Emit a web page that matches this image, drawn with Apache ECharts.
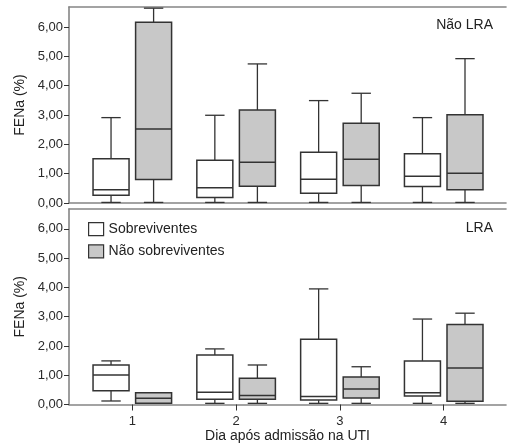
<!DOCTYPE html>
<html>
<head>
<meta charset="utf-8">
<script src="https://cdn.jsdelivr.net/npm/echarts@6/dist/echarts.min.js"></script>
<style>html,body{margin:0;padding:0;background:#fff;}#c{width:507px;height:447px;}</style>
</head>
<body>
<div id="c"></div>
<script>
// Days after ICU admission
const days = [1, 2, 3, 4];
const yTicks = [0, 1, 2, 3, 4, 5, 6];
// Each entry: [min, Q1, median, Q3, max] for day 1..4
const naoLraSobreviventes = [[0.02, 0.26, 0.45, 1.51, 2.91], [0.02, 0.19, 0.52, 1.46, 2.99], [0.02, 0.33, 0.81, 1.73, 3.49], [0.02, 0.56, 0.91, 1.68, 2.91]];
const naoLraNaoSobreviventes = [[0.02, 0.80, 2.52, 6.16, 6.64], [0.02, 0.57, 1.39, 3.17, 4.74], [0.02, 0.60, 1.49, 2.72, 3.74], [0.02, 0.45, 1.01, 3.01, 4.92]];
const lraSobreviventes = [[0.12, 0.47, 1.01, 1.35, 1.49], [0.04, 0.18, 0.42, 1.69, 1.90], [0.04, 0.15, 0.27, 2.23, 3.95], [0.04, 0.29, 0.40, 1.49, 2.92]];
const lraNaoSobreviventes = [[0.04, 0.04, 0.21, 0.40, 0.40], [0.04, 0.18, 0.31, 0.90, 1.35], [0.04, 0.22, 0.53, 0.94, 1.29], [0.04, 0.11, 1.25, 2.73, 3.12]];

const FONT = '"Liberation Sans", Arial, sans-serif';
const AXIS_GRAY = '#858585';
const INK = '#333';

function toData(stats) { return days.map((d, i) => [d].concat(stats[i])); }

function makeRender(sign) {
  return function (params, api) {
    const x = api.value(0);
    const unit = api.size([1, 0])[0];
    const cx = api.coord([x, 0])[0] + sign * unit * 0.205;
    const yMin = api.coord([x, api.value(1)])[1];
    const yQ1 = api.coord([x, api.value(2)])[1];
    const yMed = api.coord([x, api.value(3)])[1];
    const yQ3 = api.coord([x, api.value(4)])[1];
    const yMax = api.coord([x, api.value(5)])[1];
    const hw = 18, cw = 9.7;
    const fill = api.visual('color');
    const ls = { stroke: INK, lineWidth: 1.3 };
    return {
      type: 'group',
      children: [
        { type: 'line', shape: { x1: cx, y1: yQ3, x2: cx, y2: yMax }, style: ls },
        { type: 'line', shape: { x1: cx, y1: yQ1, x2: cx, y2: yMin }, style: ls },
        { type: 'line', shape: { x1: cx - cw, y1: yMax, x2: cx + cw, y2: yMax }, style: ls },
        { type: 'line', shape: { x1: cx - cw, y1: yMin, x2: cx + cw, y2: yMin }, style: ls },
        { type: 'rect', shape: { x: cx - hw, y: yQ3, width: 2 * hw, height: yQ1 - yQ3 }, style: { fill: fill, stroke: INK, lineWidth: 1.5 } },
        { type: 'line', shape: { x1: cx - hw, y1: yMed, x2: cx + hw, y2: yMed }, style: { stroke: INK, lineWidth: 1.5 } }
      ]
    };
  };
}

const fmt = v => v.toFixed(2).replace('.', ',');

function yAxis(gridIndex) {
  return {
    type: 'value', gridIndex, min: 0, max: 6.68, interval: 1,
    name: 'FENa (%)', nameLocation: 'middle', nameGap: 41,
    nameTextStyle: { fontFamily: FONT, fontSize: 14, color: '#222' },
    axisLine: { show: true, onZero: false, lineStyle: { color: AXIS_GRAY, width: 1.6 } },
    axisTick: { show: true, length: 5, customValues: yTicks, lineStyle: { color: INK } },
    axisLabel: { customValues: yTicks, formatter: fmt, fontFamily: FONT, fontSize: 13, color: '#2a2a2a', margin: 6 },
    splitLine: { show: false }
  };
}
function xBase(gridIndex, position) {
  return {
    type: 'value', gridIndex, position, min: 0.39, max: 4.6,
    axisLine: { show: true, onZero: false, lineStyle: { color: AXIS_GRAY, width: 1.6 } },
    axisTick: { show: false }, axisLabel: { show: false }, splitLine: { show: false }
  };
}

const bottomX = Object.assign(xBase(1, 'bottom'), {
  name: 'Dia após admissão na UTI', nameLocation: 'middle', nameGap: 25,
  nameTextStyle: { fontFamily: FONT, fontSize: 14, color: '#222' },
  axisTick: { show: true, length: 6, customValues: days, lineStyle: { color: INK } },
  axisLabel: { show: true, customValues: days, fontFamily: FONT, fontSize: 13, color: '#2a2a2a', margin: 10 }
});

const chart = echarts.init(document.getElementById('c'), null, { renderer: 'canvas' });
chart.setOption({
  animation: false,
  backgroundColor: '#fff',
  title: [
    { text: 'Não LRA', right: 14, top: 18, padding: 0, textStyle: { fontFamily: FONT, fontSize: 14, fontWeight: 'normal', color: '#222' } },
    { text: 'LRA', right: 14, top: 221, padding: 0, textStyle: { fontFamily: FONT, fontSize: 14, fontWeight: 'normal', color: '#222' } }
  ],
  legend: {
    data: ['Sobreviventes', 'Não sobreviventes'], orient: 'vertical', left: 88, top: 222,
    itemWidth: 15, itemHeight: 13, itemGap: 8, icon: 'rect', selectedMode: false, padding: 0,
    itemStyle: { borderColor: INK, borderWidth: 1.2 },
    textStyle: { fontFamily: FONT, fontSize: 14, color: '#222' }
  },
  grid: [
    { left: 69, right: 1, top: 7, height: 196 },
    { left: 69, right: 1, top: 209, height: 195.5 }
  ],
  xAxis: [xBase(0, 'bottom'), xBase(0, 'top'), bottomX, xBase(1, 'top')],
  yAxis: [yAxis(0), yAxis(1)],
  series: [
    { type: 'custom', name: 'Sobreviventes', xAxisIndex: 0, yAxisIndex: 0, itemStyle: { color: '#ffffff' }, renderItem: makeRender(-1), encode: { x: 0, y: [1, 2, 3, 4, 5] }, data: toData(naoLraSobreviventes) },
    { type: 'custom', name: 'Não sobreviventes', xAxisIndex: 0, yAxisIndex: 0, itemStyle: { color: '#c8c8c8' }, renderItem: makeRender(1), encode: { x: 0, y: [1, 2, 3, 4, 5] }, data: toData(naoLraNaoSobreviventes) },
    { type: 'custom', name: 'Sobreviventes', xAxisIndex: 2, yAxisIndex: 1, itemStyle: { color: '#ffffff' }, renderItem: makeRender(-1), encode: { x: 0, y: [1, 2, 3, 4, 5] }, data: toData(lraSobreviventes) },
    { type: 'custom', name: 'Não sobreviventes', xAxisIndex: 2, yAxisIndex: 1, itemStyle: { color: '#c8c8c8' }, renderItem: makeRender(1), encode: { x: 0, y: [1, 2, 3, 4, 5] }, data: toData(lraNaoSobreviventes) }
  ]
});
</script>
</body>
</html>
